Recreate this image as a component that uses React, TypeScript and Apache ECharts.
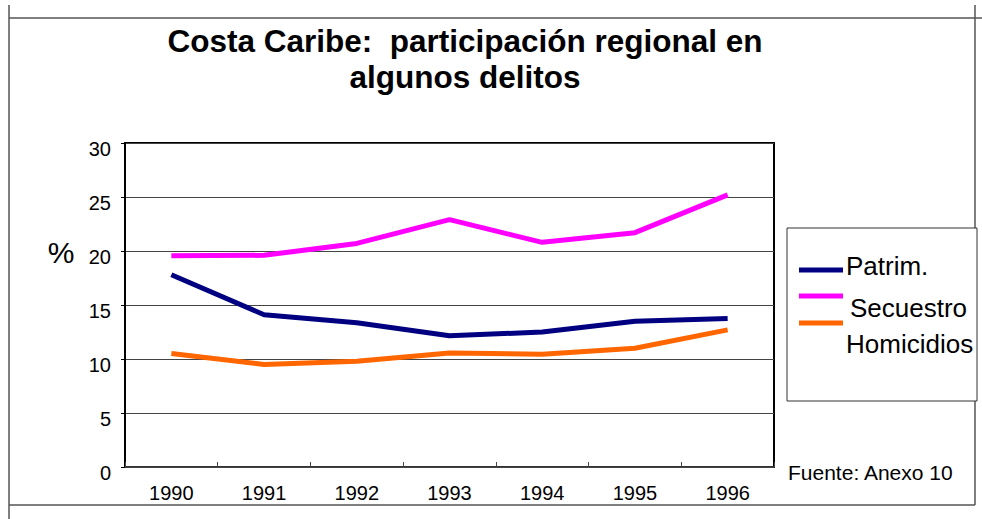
import React, { useEffect, useRef } from 'react';
import * as echarts from 'echarts';

const FONT = '"Liberation Sans", Arial, Helvetica, sans-serif';

// ---- Data ----
const categories = ['1990', '1991', '1992', '1993', '1994', '1995', '1996'];
const patrim = [17.8, 14.1, 13.35, 12.15, 12.5, 13.5, 13.75];
const secuestro = [19.55, 19.6, 20.7, 22.9, 20.8, 21.7, 25.2];
const homicidios = [10.5, 9.5, 9.8, 10.55, 10.45, 11.0, 12.7];
const seriesNames = ['Patrim.', 'Secuestro', 'Homicidios'];
const seriesColors = ['#000080', '#FF00FF', '#FF6600'];
const yMin = 0;
const yMax = 30;
const yStep = 5;
const titleLines = ['Costa Caribe:  participación regional en', 'algunos delitos'];
const yAxisName = '%';
const sourceNote = 'Fuente: Anexo 10';

// ---- Layout (not data) ----
const legendLineY = [270, 296, 323];
const legendText = [
  { x: 846, y: 266 },
  { x: 850, y: 308 },
  { x: 846, y: 344 },
];

export default function App() {
  const ref = useRef<HTMLDivElement>(null);

  useEffect(() => {
    const chart = echarts.init(ref.current!, null, { renderer: 'svg' });
    const values = [patrim, secuestro, homicidios];

    const text = (
      x: number,
      y: number,
      t: string,
      size: number,
      opts: { bold?: boolean; align?: string } = {}
    ) => ({
      type: 'text',
      x,
      y,
      silent: true,
      style: {
        text: t,
        fill: '#000',
        fontSize: size,
        fontWeight: opts.bold ? 'bold' : 'normal',
        fontFamily: FONT,
        align: opts.align || 'left',
        verticalAlign: 'middle',
        textAlign: opts.align || 'left',
        textVerticalAlign: 'middle',
      },
    });

    const frameLine = (x1: number, y1: number, x2: number, y2: number) => ({
      type: 'line',
      silent: true,
      shape: { x1, y1, x2, y2 },
      style: { stroke: '#555', lineWidth: 1.5 },
    });

    const legendElems: any[] = [];
    seriesNames.forEach((n, i) => {
      legendElems.push({
        type: 'line',
        silent: true,
        shape: { x1: 799, y1: legendLineY[i], x2: 843, y2: legendLineY[i] },
        style: { stroke: seriesColors[i], lineWidth: 5 },
      });
      legendElems.push(text(legendText[i].x, legendText[i].y, n, 26));
    });

    chart.setOption({
      animation: false,
      backgroundColor: '#fff',
      grid: {
        left: 125,
        top: 143,
        width: 649,
        height: 324,
        show: true,
        borderColor: '#000',
        borderWidth: 2,
        backgroundColor: 'transparent',
      },
      xAxis: {
        type: 'category',
        data: categories,
        boundaryGap: true,
        offset: 10,
        axisLine: { show: true, lineStyle: { color: '#444', width: 1.5 } },
        axisTick: { show: true, inside: true, length: 5, lineStyle: { color: '#444', width: 1 } },
        axisLabel: { color: '#000', fontSize: 20, fontFamily: FONT, margin: 6 },
        splitLine: { show: false },
      },
      yAxis: {
        type: 'value',
        min: yMin,
        max: yMax,
        interval: yStep,
        axisLine: { show: true, lineStyle: { color: '#000', width: 2 } },
        axisTick: { show: true, inside: false, length: 4, lineStyle: { color: '#000', width: 1 } },
        axisLabel: {
          color: '#000',
          fontSize: 20,
          fontFamily: FONT,
          margin: 14,
          verticalAlign: 'top',
          lineHeight: 12,
        },
        splitLine: { show: true, lineStyle: { color: '#444', width: 1 } },
      },
      series: seriesNames.map((n, i) => ({
        name: n,
        type: 'line',
        data: values[i],
        symbol: 'none',
        showSymbol: false,
        lineStyle: { color: seriesColors[i], width: 5 },
        itemStyle: { color: seriesColors[i] },
        z: 3 + i,
      })),
      graphic: [
        frameLine(9, 18, 982, 18),
        frameLine(9, 5, 9, 519),
        frameLine(975, 5, 975, 505),
        frameLine(9, 505, 975, 505),
        text(465, 41, titleLines[0], 31.5, { bold: true, align: 'center' }),
        text(465, 77, titleLines[1], 31.5, { bold: true, align: 'center' }),
        text(61, 252, yAxisName, 30, { align: 'center' }),
        {
          type: 'rect',
          silent: true,
          shape: { x: 787, y: 228, width: 190, height: 173 },
          style: { fill: '#fff', stroke: '#333', lineWidth: 1 },
        },
        ...legendElems,
        text(788, 472, sourceNote, 21),
      ],
    });

    return () => chart.dispose();
  }, []);

  return (
    <div
      ref={ref}
      style={{ position: 'absolute', left: 0, top: 0, width: 982, height: 519, background: '#fff' }}
    />
  );
}
